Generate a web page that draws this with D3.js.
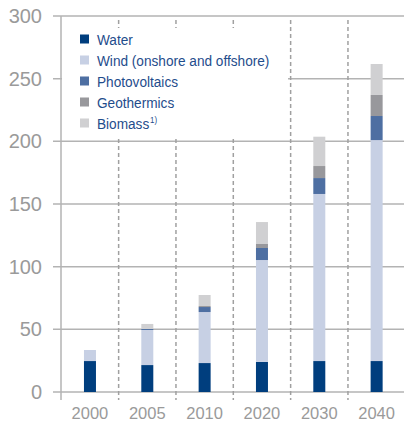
<!DOCTYPE html>
<html><head><meta charset="utf-8">
<script src="https://cdn.jsdelivr.net/npm/d3@7"></script>
<style>body{margin:0;background:#fff}svg{display:block}</style>
</head><body><svg id="c" width="404" height="428"></svg>
<script>
const years = ["2000","2005","2010","2020","2030","2040"];
const seriesNames = ["Water","Wind (onshore and offshore)","Photovoltaics","Geothermics","Biomass"];
const water = [24.7, 21.5, 23.1, 24.0, 24.7, 24.7];
const wind = [8.8, 28.0, 40.7, 81.3, 133.3, 176.3];
const photovoltaics = [0, 0.8, 4.0, 9.6, 12.7, 19.2];
const geothermics = [0, 0, 0.8, 3.2, 9.6, 16.8];
const biomass = [0, 4.0, 8.8, 17.5, 23.4, 24.7];
const yTicks = [0, 50, 100, 150, 200, 250, 300];
const colors = ["#003e7e", "#c7d0e4", "#4e6fa2", "#98989c", "#d0d0d2"];

const svg = d3.select("#c");
const x = d3.scaleBand().domain(years).range([61.3, 405.3]).padding(0);
const y = d3.scaleLinear().domain([0, 300]).range([392, 16]);
const gridColor = "#b3b3b3";
const font = "'Liberation Sans', Arial, sans-serif";

svg.append("g").selectAll("line").data(yTicks).join("line")
  .attr("x1", 53).attr("x2", 404)
  .attr("y1", d => y(d)).attr("y2", d => y(d))
  .attr("stroke", gridColor).attr("stroke-width", 1.5);

svg.append("g").selectAll("line").data(years.slice(1)).join("line")
  .attr("x1", d => x(d)).attr("x2", d => x(d))
  .attr("y1", y(300) + 4).attr("y2", y(0) + 8)
  .attr("stroke", "#a0a0a0").attr("stroke-width", 1.5)
  .attr("stroke-dasharray", "4,3");

svg.append("g").selectAll("text").data(yTicks).join("text")
  .attr("x", 42).attr("y", d => y(d) + 7)
  .attr("text-anchor", "end")
  .attr("font-family", font)
  .attr("font-size", 20).attr("fill", "#9a9a9a")
  .text(d => d);

svg.append("rect").attr("x", 62).attr("y", 28).attr("width", 226).attr("height", 110).attr("fill", "#fff");

svg.append("line").attr("x1", 61).attr("x2", 61).attr("y1", y(300)).attr("y2", y(0) + 8)
  .attr("stroke", gridColor).attr("stroke-width", 1.5);

const table = years.map((yr, i) => ({year: yr, s0: water[i], s1: wind[i], s2: photovoltaics[i], s3: geothermics[i], s4: biomass[i]}));
const keys = ["s0","s1","s2","s3","s4"];
const stacked = d3.stack().keys(keys)(table);
const barW = 12;
svg.append("g").selectAll("g").data(stacked).join("g")
  .attr("fill", (d, i) => colors[i])
  .selectAll("rect").data(d => d).join("rect")
  .attr("x", d => x(d.data.year) + x.bandwidth() / 2 - barW / 2)
  .attr("width", barW)
  .attr("y", d => y(d[1]))
  .attr("height", d => Math.max(0, y(d[0]) - y(d[1])));

svg.append("g").selectAll("text").data(years).join("text")
  .attr("x", d => x(d) + x.bandwidth() / 2).attr("y", 419)
  .attr("text-anchor", "middle")
  .attr("font-family", font)
  .attr("font-size", 16.5).attr("fill", "#9a9a9a")
  .text(d => d);

const lg = svg.append("g").selectAll("g").data(seriesNames).join("g")
  .attr("transform", (d, i) => `translate(80, ${39 + i * 21})`);
lg.append("rect").attr("x", 0).attr("y", -4.5).attr("width", 9).attr("height", 9)
  .attr("fill", (d, i) => colors[i]);
const lt = lg.append("text").attr("transform", "translate(17,5.5) scale(0.88,1)")
  .attr("font-family", font).attr("font-size", 15.5).attr("fill", "#1f4d8c")
  .text(d => d);
lt.filter((d, i) => i === 4).append("tspan").attr("dx", 1).attr("dy", -6).attr("font-size", 9).text("1)");
</script></body></html>
